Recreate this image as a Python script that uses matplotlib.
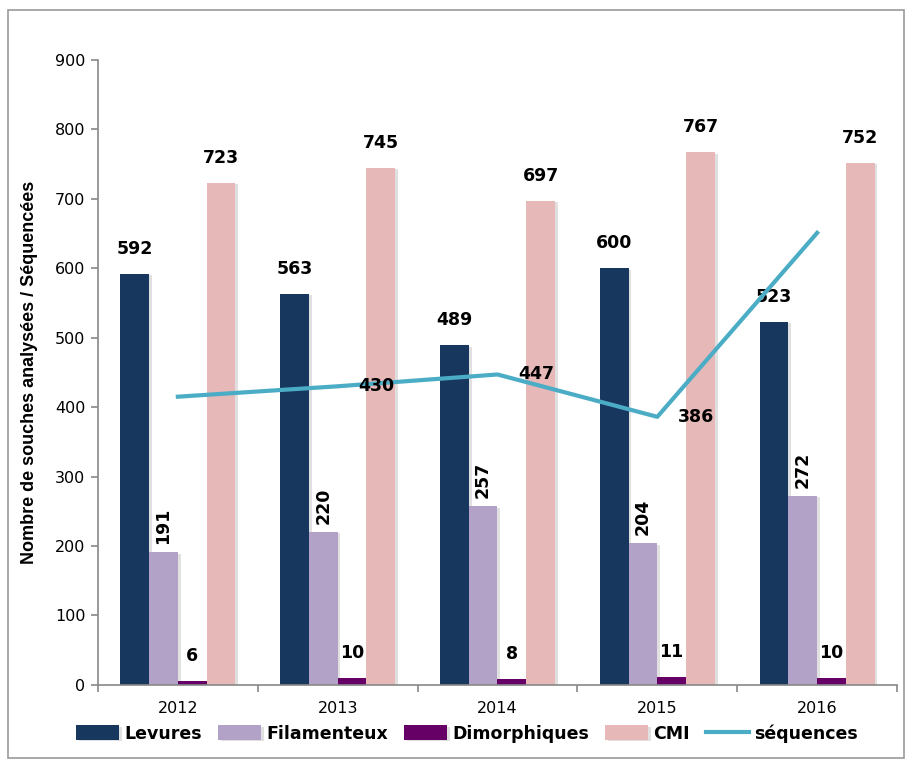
import matplotlib.pyplot as plt
import matplotlib.patheffects as pe
import numpy as np
from matplotlib.patches import Rectangle

years = ["2012", "2013", "2014", "2015", "2016"]
levures = [592, 563, 489, 600, 523]
filamenteux = [191, 220, 257, 204, 272]
dimorphiques = [6, 10, 8, 11, 10]
cmi = [723, 745, 697, 767, 752]
sequences = [415, 430, 447, 386, 651]
seq_labels = [None, "430", "447", "386", None]

c_lev = "#17375E"
c_fil = "#B3A2C7"
c_dim = "#660066"
c_cmi = "#E6B9B8"
c_seq = "#4BACC6"

fig = plt.figure(figsize=(9.07, 7.6), dpi=100)
ax = fig.add_axes([0.108, 0.099, 0.881, 0.822])

x = np.arange(len(years))
w = 0.18
series = [(levures, c_lev, "Levures"), (filamenteux, c_fil, "Filamenteux"),
          (dimorphiques, c_dim, "Dimorphiques"), (cmi, c_cmi, "CMI")]
shadow = [pe.SimplePatchShadow(offset=(2, -1), shadow_rgbFace="#000000", alpha=0.12), pe.Normal()]
for i, (vals, col, lab) in enumerate(series):
    b = ax.bar(x + (i - 1.5) * w, vals, w, color=col, label=lab, zorder=2)
    for p in b:
        p.set_path_effects(shadow)

# value labels
for i, (vals, col, lab) in enumerate(series):
    for xi, v in zip(x + (i - 1.5) * w, vals):
        if lab == "Filamenteux":
            ax.annotate(str(v), (xi, v), xytext=(0, 6), textcoords="offset points",
                        rotation=90, ha="center", va="bottom",
                        fontsize=12.5, fontweight="bold")
        else:
            ax.annotate(str(v), (xi, v), xytext=(0, 18), textcoords="offset points",
                        ha="center", va="center", fontsize=12.5, fontweight="bold")

ax.plot(x, sequences, color=c_seq, lw=3, label="séquences", zorder=3)
for xi, v, t in zip(x, sequences, seq_labels):
    if t:
        ax.annotate(t, (xi, v), xytext=(15, 0), textcoords="offset points",
                    ha="left", va="center", fontsize=12.5, fontweight="bold", zorder=4)

ax.set_xlim(-0.5, 4.5)
ax.set_ylim(0, 900)
ax.set_yticks(range(0, 901, 100))
ax.set_xticks(x)
ax.set_xticklabels(years)
ax.set_xticks(np.arange(-0.5, 5, 1), minor=True)
ax.tick_params(axis="x", which="major", length=0, pad=12, labelsize=11.5)
ax.tick_params(axis="x", which="minor", length=5, color="#888888", width=1.2)
ax.tick_params(axis="y", length=5, color="#888888", width=1.2, labelsize=11.5, pad=4)
for s in ["top", "right"]:
    ax.spines[s].set_visible(False)
for s in ["left", "bottom"]:
    ax.spines[s].set_color("#888888")
    ax.spines[s].set_linewidth(1.2)

ax.set_ylabel("Nombre de souches analysées / Séquencées", fontsize=13,
              fontweight="bold", family=["Liberation Sans", "DejaVu Sans"],
              labelpad=12)

handles, labels = ax.get_legend_handles_labels()
order = [1, 2, 3, 4, 0]
fig.legend([handles[k] for k in order], [labels[k] for k in order],
           loc="center", bbox_to_anchor=(0.515, 0.035), ncol=5,
           frameon=False, prop={"weight": "bold", "size": 12.5},
           handlelength=2.5, handleheight=0.9, columnspacing=0.9, handletextpad=0.3)

fig.patches.append(Rectangle((0.009, 0.003), 0.988, 0.984, transform=fig.transFigure,
                             fill=False, edgecolor="#999999", lw=1.2))

fig.savefig("out.png", dpi=100)
